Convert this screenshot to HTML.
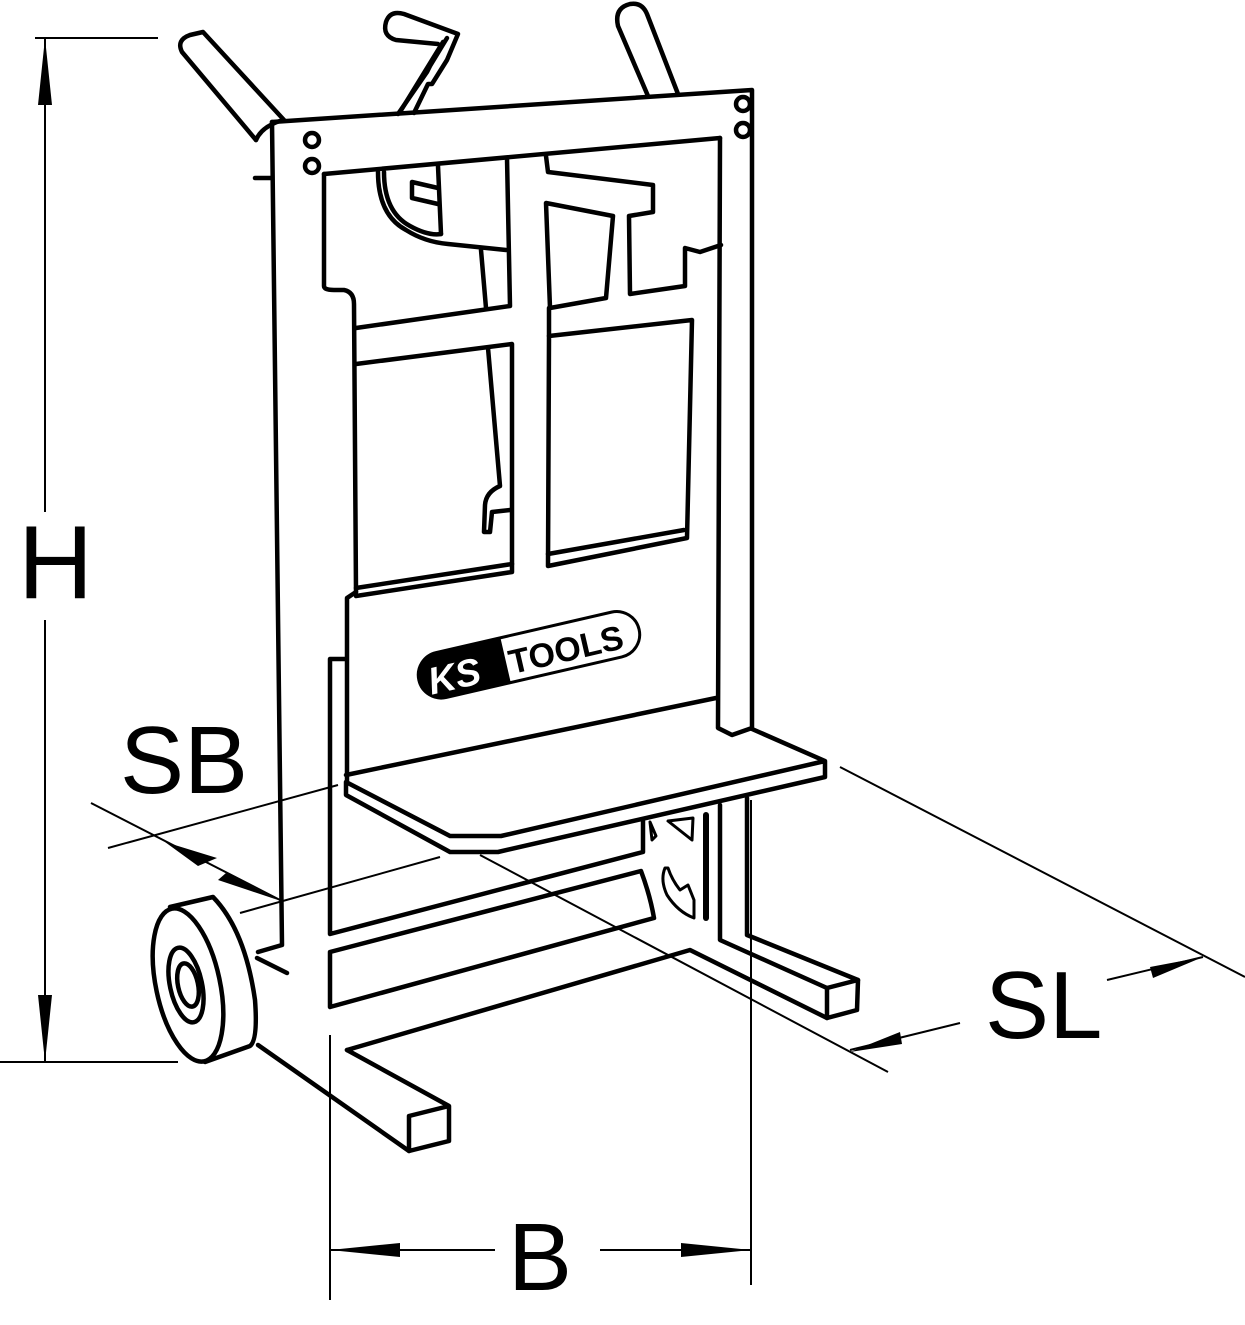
<!DOCTYPE html>
<html><head><meta charset="utf-8"><style>
html,body{margin:0;padding:0;background:#fff;}
svg{display:block}
text{font-family:"Liberation Sans",sans-serif;fill:#000}
</style></head><body>
<svg width="1245" height="1325" viewBox="0 0 1245 1325" xmlns="http://www.w3.org/2000/svg">
<g fill="none" stroke="#000" stroke-width="4.5" stroke-linejoin="round" stroke-linecap="round">
<!-- handles -->
<path d="M256,140 L182,52 Q176,40 190,35 L203,32 L284,120"/>
<path d="M256,140 Q262,126 283,120"/>
<path d="M255,178 L272,178"/>
<path d="M438,44 L396,40 Q382,36 386,22 Q390,10 404,14 L458,34 L447,60 L432,84 L428,84 L414,113"/>
<path d="M447,38 L430,66 L427,72 L398,114"/>
<path d="M443,42 L400,112"/>
<path d="M648,96 L618,26 Q614,8 630,4 Q642,2 647,14 L678,94"/>
<!-- frame -->
<path d="M272,122 L282,945 L258,952"/>
<path d="M272,122 L752,90 L752,728 L732,735 L718,728 L720,138"/>
<path d="M324,174 L720,138"/>
<path d="M324,174 L324,286 Q324,290 334,290 L344,290 Q354,292 354,304 L356,592"/>
<circle cx="312" cy="140" r="7"/><circle cx="312" cy="166" r="7"/>
<circle cx="743" cy="104" r="7"/><circle cx="743" cy="130" r="7"/>
<!-- center bar -->
<path d="M507,158 L510,306 L356,328"/>
<path d="M546,156 L548,172 L653,185 L653,212 L629,216 L630,294 L685,286 L685,248 L700,252 L721,245"/>
<path d="M546,203 L613,216 L606,298 L550,308 Z"/>
<path d="M549,308 L549,336"/>
<path d="M356,364 L512,344 L512,572 L356,596"/>
<path d="M356,588 L512,564"/>
<path d="M549,336 L692,320 L687,538 L548,566 Z"/>
<path d="M548,554 L684,530"/>
<!-- left inner mechanism -->
<path d="M438,166 L441,234"/>
<path d="M412,182 L438,188 M412,182 L412,198 L438,204"/>
<path d="M378,172 Q378,215 406,230 Q425,242 448,244 L506,250"/>
<path d="M384,172 Q384,212 410,226 Q428,236 441,234"/>
<path d="M481,250 L486,308 M488,348 L500,486 Q486,492 485,505 L484,532 L490,532 L492,512 L510,510"/>
<!-- back panel & platform -->
<path d="M356,592 L347,598 L347,782"/>
<path d="M346,775 L716,698"/>
<path d="M752,729 L825,761 L825,777 L498,852 L450,852 L346,795 L346,782 L450,836 L501,836 L825,761"/>
<!-- lower frame -->
<path d="M346,659 L330,659 L330,934 L643,852 L643,821"/>
<path d="M330,952 L641,871 Q650,895 654,918 L330,1007 Z"/>
<path d="M650,822 L656,836 L652,840 Z" stroke-width="3"/>
<path d="M668,821 L693,818 L692,840 Z" stroke-width="3"/>
<path d="M665,868 Q660,880 667,895 Q678,912 694,918 L694,900 L688,885 L680,890 Q672,880 668,868 Z" stroke-width="3"/>
<path d="M706,815 L706,918" stroke-width="6"/>
<path d="M720,805 L720,940 L827,988 L858,980 L747,935 L747,798"/>
<path d="M827,988 L827,1018 L857,1010 L858,980"/>
<path d="M347,1050 L690,950 L827,1018"/>
<path d="M347,1050 L449,1106 L449,1141 L409,1151 L409,1116 L449,1106"/>
<path d="M258,1045 L409,1151"/>
<!-- wheel -->
<ellipse cx="188" cy="985" rx="32" ry="78" transform="rotate(-12 188 985)"/>
<path d="M170,907 L213,897 Q245,930 255,1000 Q258,1040 250,1046 L205,1062"/>
<ellipse cx="186" cy="985" rx="16" ry="38" transform="rotate(-12 186 985)"/>
<ellipse cx="188" cy="985" rx="10" ry="22" transform="rotate(-12 188 985)"/>
<path d="M257,958 L287,973"/>
</g>
<!-- logo -->
<g transform="rotate(-13 528 655)">
<rect x="416" y="632" width="226" height="46" rx="23" fill="#fff" stroke="#000" stroke-width="3"/>
<path d="M439,632 L505,632 L505,678 L439,678 A23,23 0 0 1 439,632 Z" fill="#000"/>
<text x="425" y="672" font-size="38" font-weight="bold" font-style="italic" style="fill:#fff">KS</text>
<text x="508" y="670" font-size="34" font-weight="bold">TOOLS</text>
</g>
<!-- dimension lines -->
<g fill="none" stroke="#000" stroke-width="2">
<path d="M35,38 L158,38 M0,1062 L178,1062"/>
<path d="M45,38 L45,512 M45,620 L45,1062"/>
<path d="M330,1035 L330,1300 M751,800 L751,1285"/>
<path d="M330,1250 L495,1250 M600,1250 L751,1250"/>
<path d="M108,848 L338,785 M240,913 L440,857"/>
<path d="M91,803 L280,900"/>
<path d="M840,767 L1245,977 M480,855 L888,1072"/>
<path d="M850,1050 L960,1023 M1107,980 L1203,957"/>
</g>
<g fill="#000">
<polygon points="45,38 38,105 52,105"/>
<polygon points="45,1062 38,995 52,995"/>
<polygon points="330,1250 400,1243 400,1257"/>
<polygon points="751,1250 681,1243 681,1257"/>
<polygon points="165,842 217,858 198,866"/>
<polygon points="278,900 218,880 226,873"/>
<polygon points="850,1052 900,1032 902,1044"/>
<polygon points="1203,957 1153,978 1150,967"/>
</g>
<text x="18" y="598" font-size="104">H</text>
<text x="120" y="793" font-size="96">SB</text>
<text x="508" y="1290" font-size="96">B</text>
<text x="985" y="1038" font-size="96">SL</text>
</svg>
</body></html>
